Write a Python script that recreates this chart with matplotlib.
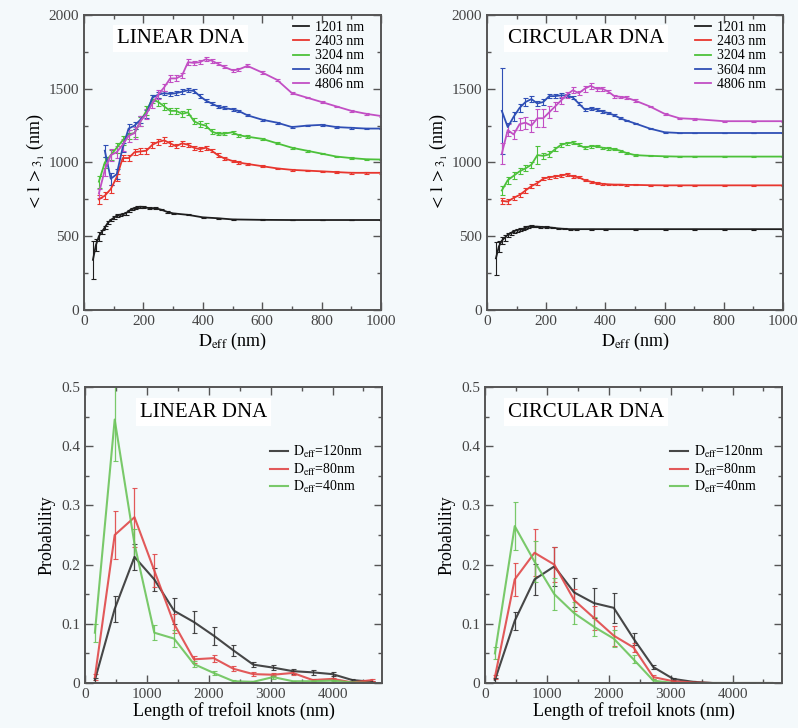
import numpy as np
import matplotlib
matplotlib.use("Agg")
from matplotlib import pyplot as plt
from matplotlib.ticker import MultipleLocator
from matplotlib.lines import Line2D

plt.rcParams['font.family'] = ['Liberation Serif', 'DejaVu Serif']
plt.rcParams['mathtext.fontset'] = 'stix'

# ---- top panels: mean knot length vs D_eff ----
lin_black_x = [30, 40, 50, 60, 70, 80, 90, 100, 110, 120, 130, 140, 150, 160, 170, 180, 190, 200,
               220, 240, 260, 280, 300, 350, 400, 450, 500, 600, 700, 800, 900, 1000]
lin_black_y = [340, 440, 500, 530, 560, 590, 610, 625, 640, 645, 650, 655, 670, 685, 690, 697, 700, 698,
               690, 690, 680, 665, 655, 645, 628, 622, 614, 611, 610, 610, 610, 610]
lin_black_e = [130, 40, 30, 15, 12, 10, 10, 10, 8, 8, 8, 8, 8, 6, 6, 6, 6, 6,
               5, 5, 5, 5, 5, 4, 4, 4, 3, 3, 3, 3, 3, 3]

lin_x = [50, 70, 90, 110, 130, 150, 170, 190, 210, 230, 250, 270, 290, 310, 330, 350, 370, 390,
         410, 430, 450, 470, 500, 520, 550, 600, 650, 700, 750, 800, 850, 900, 950, 1000]
lin_red_y = [750, 775, 820, 900, 1030, 1030, 1070, 1075, 1080, 1120, 1140, 1150, 1130, 1110, 1130, 1120, 1100, 1090,
             1100, 1080, 1050, 1030, 1010, 1000, 990, 975, 960, 950, 945, 940, 935, 930, 930, 930]
lin_red_e = [30, 25, 25, 25, 20, 20, 20, 20, 20, 20, 20, 20, 15, 15, 15, 15, 15, 15,
             15, 12, 12, 10, 10, 10, 8, 8, 6, 6, 5, 5, 5, 5, 5, 5]
lin_green_y = [870, 1000, 1050, 1100, 1150, 1190, 1200, 1280, 1350, 1430, 1410, 1380, 1350, 1350, 1330, 1340, 1280, 1260,
               1250, 1210, 1195, 1195, 1205, 1185, 1175, 1160, 1130, 1100, 1080, 1060, 1040, 1030, 1022, 1020]
lin_green_e = [40, 40, 35, 35, 30, 30, 30, 30, 30, 25, 25, 25, 20, 20, 20, 20, 20, 20,
               15, 15, 12, 12, 10, 10, 10, 8, 8, 6, 6, 5, 5, 5, 5, 5]
lin_blue_x = lin_x[1:]
lin_blue_y = [1080, 890, 920, 1100, 1230, 1250, 1290, 1330, 1440, 1460, 1470, 1465, 1470, 1480, 1490, 1485, 1450,
              1420, 1400, 1380, 1370, 1360, 1350, 1320, 1290, 1270, 1240, 1250, 1255, 1240, 1235, 1230, 1230]
lin_blue_e = [40, 40, 35, 30, 30, 25, 25, 25, 20, 20, 15, 15, 15, 15, 15, 15, 12,
              12, 10, 10, 10, 8, 8, 8, 6, 6, 5, 5, 5, 5, 5, 5, 5]
lin_mag_y = [790, 950, 1050, 1070, 1120, 1180, 1200, 1280, 1330, 1400, 1460, 1510, 1570, 1570, 1590, 1680, 1675, 1680,
             1700, 1690, 1670, 1650, 1625, 1630, 1655, 1610, 1560, 1470, 1440, 1410, 1380, 1350, 1330, 1315]
lin_mag_e = [30, 40, 40, 40, 40, 40, 40, 35, 35, 30, 30, 25, 25, 20, 20, 20, 15, 15,
             15, 15, 12, 12, 10, 10, 10, 8, 8, 6, 6, 5, 5, 5, 5, 5]

circ_black_x = [30, 40, 50, 60, 70, 80, 90, 100, 110, 120, 130, 140, 150, 160, 170, 180, 200, 220,
                240, 260, 280, 300, 350, 400, 500, 600, 700, 800, 900, 1000]
circ_black_y = [350, 430, 470, 490, 510, 520, 535, 540, 545, 548, 560, 565, 568, 565, 565, 563, 562, 558,
                553, 550, 548, 548, 548, 548, 548, 548, 548, 548, 548, 548]
circ_black_e = [110, 40, 25, 20, 15, 12, 10, 10, 8, 8, 8, 6, 6, 5, 5, 5, 5, 5,
                4, 4, 4, 4, 3, 3, 3, 3, 3, 3, 3, 3]

circ_x = [50, 70, 90, 110, 130, 150, 170, 190, 210, 230, 250, 270, 290, 310, 330, 350, 370, 390,
          410, 430, 450, 470, 500, 550, 600, 650, 700, 800, 900, 1000]
circ_red_y = [740, 735, 760, 780, 810, 840, 860, 890, 900, 905, 910, 920, 905, 900, 880, 870, 860, 855,
              852, 850, 850, 848, 848, 846, 845, 845, 845, 845, 845, 845]
circ_red_e = [20, 15, 15, 15, 15, 15, 12, 12, 10, 10, 10, 10, 8, 8, 8, 6, 6, 5,
              5, 5, 5, 5, 4, 4, 4, 3, 3, 3, 3, 3]
circ_green_y = [810, 880, 910, 940, 960, 985, 1050, 1045, 1055, 1090, 1120, 1130, 1135, 1120, 1100, 1110, 1110, 1100,
                1095, 1090, 1080, 1065, 1050, 1045, 1042, 1040, 1040, 1040, 1040, 1040]
circ_green_e = [30, 25, 25, 20, 20, 20, 60, 20, 20, 15, 15, 12, 12, 10, 10, 10, 8, 8,
                8, 6, 6, 5, 5, 4, 4, 3, 3, 3, 3, 3]
circ_blue_y = [1350, 1240, 1310, 1370, 1410, 1430, 1400, 1410, 1450, 1450, 1455, 1455, 1440, 1400, 1360, 1365, 1360, 1345,
               1335, 1320, 1300, 1285, 1265, 1230, 1205, 1200, 1200, 1200, 1200, 1200]
circ_blue_e = [290, 30, 30, 25, 25, 20, 20, 20, 15, 15, 15, 12, 12, 10, 10, 10, 8, 8,
               8, 6, 6, 5, 5, 4, 4, 3, 3, 3, 3, 3]
circ_mag_y = [1060, 1220, 1190, 1260, 1270, 1250, 1300, 1300, 1340, 1380, 1420, 1460, 1490, 1470, 1500, 1520, 1500, 1500,
              1480, 1450, 1445, 1440, 1420, 1380, 1330, 1300, 1295, 1280, 1280, 1280]
circ_mag_e = [70, 40, 30, 40, 40, 40, 60, 60, 40, 30, 25, 20, 20, 15, 20, 20, 15, 12,
              10, 10, 8, 8, 8, 6, 6, 5, 5, 4, 4, 4]

lengths = ["1201 nm", "2403 nm", "3204 nm", "3604 nm", "4806 nm"]
top_colors = ['#1e1e1e', '#e8362e', '#4cc13a', '#2f4fb5', '#c24fc4']

# ---- bottom panels: probability vs knot length ----
knot_len = [160, 480, 800, 1120, 1440, 1760, 2080, 2400, 2720, 3040, 3360, 3680, 4000, 4320, 4640]
lin_p120 = [0.005, 0.125, 0.213, 0.175, 0.122, 0.103, 0.080, 0.055, 0.031, 0.026, 0.020, 0.018, 0.015, 0.005, 0.002]
lin_p120_e = [0.003, 0.022, 0.022, 0.020, 0.022, 0.018, 0.015, 0.010, 0.004, 0.004, 0.004, 0.004, 0.003, 0.002, 0.001]
lin_p80 = [0.010, 0.250, 0.280, 0.190, 0.100, 0.040, 0.042, 0.024, 0.015, 0.014, 0.017, 0.005, 0.007, 0.001, 0.005]
lin_p80_e = [0.005, 0.040, 0.050, 0.028, 0.016, 0.006, 0.006, 0.004, 0.003, 0.003, 0.003, 0.002, 0.002, 0.001, 0.002]
lin_p40 = [0.085, 0.445, 0.235, 0.085, 0.075, 0.032, 0.017, 0.003, 0.002, 0.010, 0.003, 0.003, 0.004, 0.001, 0.000]
lin_p40_e = [0.015, 0.070, 0.025, 0.013, 0.014, 0.005, 0.003, 0.002, 0.001, 0.003, 0.001, 0.001, 0.001, 0.001, 0.000]

circ_p120 = [0.005, 0.105, 0.175, 0.197, 0.153, 0.135, 0.127, 0.075, 0.027, 0.007, 0.002, 0.000, 0.000, 0.000, 0.000]
circ_p120_e = [0.003, 0.015, 0.026, 0.033, 0.025, 0.025, 0.025, 0.010, 0.004, 0.002, 0.001, 0.000, 0.000, 0.000, 0.000]
circ_p80 = [0.010, 0.175, 0.220, 0.200, 0.140, 0.110, 0.080, 0.060, 0.010, 0.003, 0.001, 0.000, 0.000, 0.000, 0.000]
circ_p80_e = [0.004, 0.028, 0.040, 0.030, 0.018, 0.020, 0.017, 0.008, 0.003, 0.001, 0.001, 0.000, 0.000, 0.000, 0.000]
circ_p40 = [0.050, 0.265, 0.205, 0.150, 0.118, 0.095, 0.075, 0.040, 0.004, 0.000, 0.000, 0.000, 0.000, 0.000, 0.000]
circ_p40_e = [0.010, 0.040, 0.035, 0.027, 0.018, 0.016, 0.015, 0.007, 0.002, 0.000, 0.000, 0.000, 0.000, 0.000, 0.000]

deff_labels = [r"$\mathrm{D_{eff}}$=120nm", r"$\mathrm{D_{eff}}$=80nm", r"$\mathrm{D_{eff}}$=40nm"]
bot_colors = ['#333333', '#e04848', '#6cc45a']

bg = '#f4f9fb'
fig = plt.figure(figsize=(7.98, 7.28), dpi=100, facecolor=bg)

ax_tl = fig.add_axes([0.1053, 0.5742, 0.3722, 0.4052])
ax_tr = fig.add_axes([0.6103, 0.5742, 0.3709, 0.4052])
ax_bl = fig.add_axes([0.1065, 0.0618, 0.3722, 0.4066])
ax_br = fig.add_axes([0.6078, 0.0618, 0.3722, 0.4066])


def style(ax):
    ax.set_facecolor(bg)
    for s in ax.spines.values():
        s.set_color('#555555')
        s.set_linewidth(1.4)
    ax.tick_params(which='both', direction='in', top=True, right=True, colors='#555555',
                   labelcolor='#444444', labelsize=11, width=1.0)
    ax.tick_params(which='major', length=6)
    ax.tick_params(which='minor', length=3)


top_sets = [
    (ax_tl, "LINEAR DNA", 0.11,
     [(lin_black_x, lin_black_y, lin_black_e), (lin_x, lin_red_y, lin_red_e), (lin_x, lin_green_y, lin_green_e),
      (lin_blue_x, lin_blue_y, lin_blue_e), (lin_x, lin_mag_y, lin_mag_e)]),
    (ax_tr, "CIRCULAR DNA", 0.07,
     [(circ_black_x, circ_black_y, circ_black_e), (circ_x, circ_red_y, circ_red_e), (circ_x, circ_green_y, circ_green_e),
      (circ_x, circ_blue_y, circ_blue_e), (circ_x, circ_mag_y, circ_mag_e)]),
]

for ax, title, tx, series in top_sets:
    style(ax)
    for (x, y, e), c in zip(series, top_colors):
        ax.errorbar(x, y, yerr=e, color=c, lw=1.3, elinewidth=0.8, capsize=1.8, capthick=0.8)
    ax.set_xlim(0, 1000)
    ax.set_ylim(0, 2000)
    ax.xaxis.set_major_locator(MultipleLocator(200))
    ax.xaxis.set_minor_locator(MultipleLocator(100))
    ax.yaxis.set_major_locator(MultipleLocator(500))
    ax.yaxis.set_minor_locator(MultipleLocator(250))
    ax.set_xlabel(r"$\mathrm{D_{eff}}$ (nm)", fontsize=13, labelpad=2)
    ax.set_ylabel(r"$\mathrm{<\,l\,>_{3_1}}$ (nm)", fontsize=13, labelpad=2)
    ax.text(tx, 0.92, title, transform=ax.transAxes, fontsize=15, va='center', ha='left',
            bbox=dict(facecolor='white', edgecolor='none', pad=3))
    handles = [Line2D([], [], color=c, lw=1.3) for c in top_colors]
    ax.legend(handles, lengths, loc='upper right', bbox_to_anchor=(0.975, 1.012), frameon=False, fontsize=10,
              handlelength=1.2, handletextpad=0.4, labelspacing=0.08, borderpad=0.2)

bot_sets = [
    (ax_bl, "LINEAR DNA", 0.185, [(lin_p120, lin_p120_e), (lin_p80, lin_p80_e), (lin_p40, lin_p40_e)]),
    (ax_br, "CIRCULAR DNA", 0.077, [(circ_p120, circ_p120_e), (circ_p80, circ_p80_e), (circ_p40, circ_p40_e)]),
]

for ax, title, tx, series in bot_sets:
    style(ax)
    for (y, e), c in zip(series, bot_colors):
        ax.errorbar(knot_len, y, yerr=e, color=c, lw=1.5, elinewidth=0.9, capsize=1.8, capthick=0.8, alpha=0.9)
    ax.set_xlim(0, 4800)
    ax.set_ylim(0, 0.5)
    ax.xaxis.set_major_locator(MultipleLocator(1000))
    ax.xaxis.set_minor_locator(MultipleLocator(500))
    ax.yaxis.set_minor_locator(MultipleLocator(0.05))
    ax.set_yticks([0, 0.1, 0.2, 0.3, 0.4, 0.5])
    ax.set_yticklabels(['0', '0.1', '0.2', '0.3', '0.4', '0.5'])
    ax.set_xlabel("Length of trefoil knots (nm)", fontsize=13, labelpad=1)
    ax.set_ylabel("Probability", fontsize=13, labelpad=4)
    ax.text(tx, 0.915, title, transform=ax.transAxes, fontsize=15, va='center', ha='left',
            bbox=dict(facecolor='white', edgecolor='none', pad=3))
    handles = [Line2D([], [], color=c, lw=1.5, alpha=0.9) for c in bot_colors]
    ax.legend(handles, deff_labels, loc='upper right', bbox_to_anchor=(0.97, 0.84), frameon=False, fontsize=10,
              handlelength=1.3, handletextpad=0.4, labelspacing=0.1, borderpad=0.2)

fig.savefig("out.png", dpi=100, facecolor=bg)
